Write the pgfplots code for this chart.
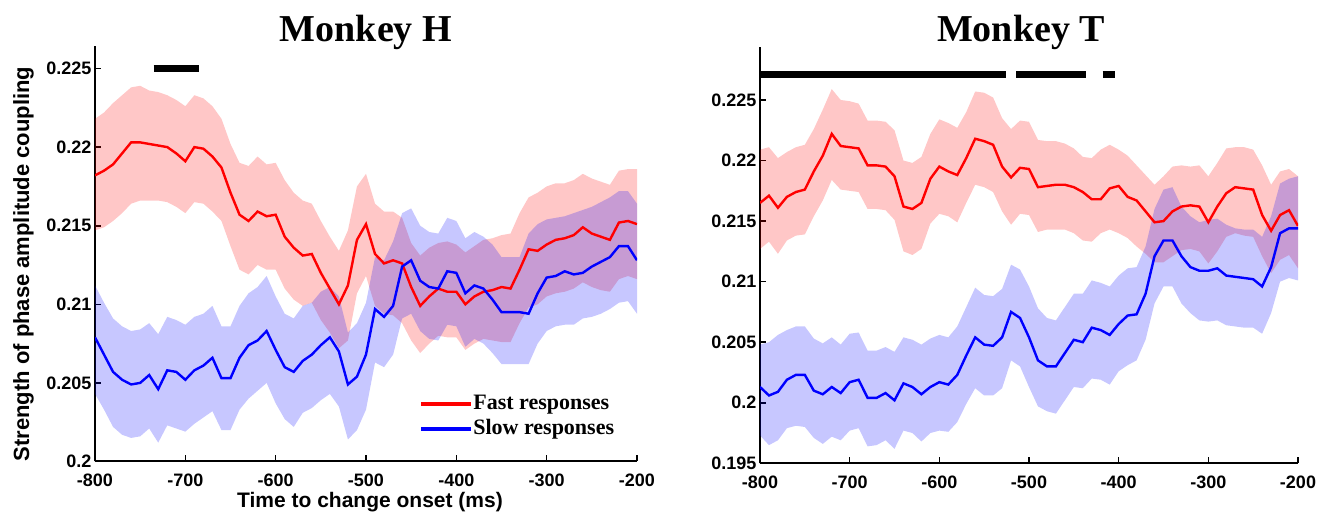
\documentclass[border=0pt]{standalone}
\usepackage{fontspec}
\setmainfont{Liberation Serif}
\setsansfont{Liberation Sans}
\usepackage{pgfplots}
\usepackage{pgfplotstable}
\pgfplotsset{compat=1.18}

% x: time (ms); fm/fl/fh: fast mean, lower, upper; sm/sl/sh: slow mean, lower, upper
\pgfplotstableread{
x fm fl fh sm sl sh
-800 0.2182 0.2147 0.2218 0.2079 0.2043 0.2112
-790 0.2185 0.2149 0.2222 0.2068 0.2033 0.2101
-780 0.2189 0.2153 0.2228 0.2057 0.2022 0.2091
-770 0.2196 0.2158 0.2233 0.2052 0.2017 0.2086
-760 0.2203 0.2164 0.2238 0.2049 0.2015 0.2083
-750 0.2203 0.2166 0.2239 0.2050 0.2016 0.2084
-740 0.2202 0.2166 0.2236 0.2055 0.2021 0.2088
-730 0.2201 0.2166 0.2235 0.2046 0.2012 0.2081
-720 0.2200 0.2165 0.2233 0.2058 0.2023 0.2092
-710 0.2196 0.2162 0.2230 0.2057 0.2021 0.2090
-700 0.2191 0.2158 0.2226 0.2052 0.2019 0.2087
-690 0.2200 0.2165 0.2233 0.2058 0.2024 0.2092
-680 0.2199 0.2164 0.2231 0.2061 0.2028 0.2094
-670 0.2194 0.2159 0.2226 0.2066 0.2032 0.2099
-660 0.2187 0.2153 0.2218 0.2053 0.2020 0.2086
-650 0.2171 0.2137 0.2202 0.2053 0.2020 0.2086
-640 0.2157 0.2122 0.2190 0.2066 0.2033 0.2099
-630 0.2153 0.2119 0.2188 0.2074 0.2040 0.2107
-620 0.2159 0.2125 0.2194 0.2077 0.2045 0.2111
-610 0.2156 0.2122 0.2189 0.2083 0.2050 0.2118
-600 0.2157 0.2122 0.2190 0.2071 0.2037 0.2105
-590 0.2143 0.2110 0.2179 0.2060 0.2027 0.2094
-580 0.2136 0.2103 0.2171 0.2057 0.2022 0.2091
-570 0.2131 0.2099 0.2166 0.2064 0.2031 0.2099
-560 0.2132 0.2101 0.2164 0.2068 0.2034 0.2101
-550 0.2120 0.2090 0.2153 0.2074 0.2039 0.2108
-540 0.2110 0.2082 0.2143 0.2079 0.2043 0.2111
-530 0.2100 0.2072 0.2134 0.2070 0.2035 0.2105
-520 0.2112 0.2077 0.2147 0.2049 0.2014 0.2082
-510 0.2141 0.2107 0.2175 0.2054 0.2020 0.2088
-500 0.2151 0.2118 0.2183 0.2068 0.2033 0.2101
-490 0.2132 0.2099 0.2164 0.2097 0.2063 0.2130
-480 0.2126 0.2094 0.2159 0.2092 0.2060 0.2128
-470 0.2128 0.2093 0.2159 0.2099 0.2068 0.2140
-460 0.2126 0.2088 0.2155 0.2124 0.2091 0.2158
-450 0.2111 0.2077 0.2139 0.2128 0.2094 0.2161
-440 0.2099 0.2069 0.2131 0.2115 0.2083 0.2150
-430 0.2105 0.2075 0.2136 0.2111 0.2078 0.2146
-420 0.2110 0.2080 0.2139 0.2110 0.2077 0.2145
-410 0.2108 0.2079 0.2140 0.2121 0.2087 0.2155
-400 0.2108 0.2079 0.2138 0.2120 0.2086 0.2153
-390 0.2100 0.2071 0.2133 0.2107 0.2073 0.2142
-380 0.2105 0.2075 0.2137 0.2112 0.2078 0.2146
-370 0.2108 0.2078 0.2141 0.2110 0.2075 0.2143
-360 0.2109 0.2077 0.2142 0.2103 0.2069 0.2138
-350 0.2111 0.2076 0.2144 0.2095 0.2062 0.2130
-340 0.2110 0.2076 0.2145 0.2095 0.2062 0.2130
-330 0.2122 0.2088 0.2158 0.2095 0.2062 0.2130
-320 0.2135 0.2098 0.2168 0.2094 0.2062 0.2145
-310 0.2134 0.2100 0.2171 0.2107 0.2075 0.2151
-300 0.2138 0.2105 0.2175 0.2117 0.2083 0.2154
-290 0.2141 0.2107 0.2177 0.2118 0.2086 0.2155
-280 0.2142 0.2108 0.2177 0.2121 0.2087 0.2156
-270 0.2144 0.2110 0.2179 0.2119 0.2087 0.2158
-260 0.2149 0.2114 0.2183 0.2120 0.2091 0.2160
-250 0.2145 0.2111 0.2180 0.2124 0.2092 0.2162
-240 0.2143 0.2109 0.2178 0.2127 0.2094 0.2165
-230 0.2141 0.2108 0.2176 0.2130 0.2097 0.2168
-220 0.2152 0.2116 0.2185 0.2137 0.2101 0.2172
-210 0.2153 0.2118 0.2186 0.2137 0.2102 0.2172
-200 0.2151 0.2116 0.2186 0.2128 0.2094 0.2164
}\monkeyH

\pgfplotstableread{
x fm fl fh sm sl sh
-800 0.2165 0.2127 0.2209 0.2013 0.1973 0.2048
-790 0.2171 0.2133 0.2211 0.2006 0.1965 0.2050
-780 0.2161 0.2123 0.2202 0.2009 0.1969 0.2056
-770 0.2170 0.2134 0.2207 0.2019 0.1979 0.2060
-760 0.2174 0.2138 0.2211 0.2023 0.1981 0.2063
-750 0.2176 0.2139 0.2213 0.2023 0.1980 0.2063
-740 0.2191 0.2154 0.2226 0.2010 0.1971 0.2053
-730 0.2204 0.2167 0.2242 0.2007 0.1966 0.2049
-720 0.2222 0.2184 0.2259 0.2013 0.1972 0.2054
-710 0.2212 0.2176 0.2250 0.2008 0.1969 0.2048
-700 0.2211 0.2175 0.2249 0.2017 0.1977 0.2057
-690 0.2210 0.2174 0.2247 0.2019 0.1979 0.2058
-680 0.2196 0.2160 0.2233 0.2004 0.1964 0.2043
-670 0.2196 0.2160 0.2233 0.2004 0.1965 0.2043
-660 0.2195 0.2159 0.2232 0.2008 0.1969 0.2046
-650 0.2187 0.2151 0.2225 0.2002 0.1962 0.2042
-640 0.2162 0.2125 0.2200 0.2016 0.1977 0.2054
-630 0.2160 0.2122 0.2198 0.2013 0.1975 0.2052
-620 0.2165 0.2127 0.2203 0.2007 0.1968 0.2048
-610 0.2185 0.2148 0.2222 0.2013 0.1975 0.2053
-600 0.2195 0.2156 0.2234 0.2017 0.1977 0.2056
-590 0.2191 0.2154 0.2231 0.2015 0.1976 0.2054
-580 0.2188 0.2149 0.2227 0.2023 0.1984 0.2063
-570 0.2202 0.2165 0.2240 0.2039 0.1999 0.2079
-560 0.2218 0.2180 0.2257 0.2054 0.2012 0.2095
-550 0.2216 0.2178 0.2256 0.2048 0.2006 0.2089
-540 0.2213 0.2174 0.2252 0.2047 0.2006 0.2088
-530 0.2195 0.2158 0.2235 0.2054 0.2012 0.2094
-520 0.2186 0.2147 0.2226 0.2075 0.2035 0.2114
-510 0.2194 0.2156 0.2233 0.2070 0.2030 0.2110
-500 0.2193 0.2155 0.2232 0.2054 0.2013 0.2096
-490 0.2178 0.2141 0.2217 0.2035 0.1997 0.2078
-480 0.2179 0.2143 0.2216 0.2030 0.1993 0.2070
-470 0.2180 0.2143 0.2216 0.2030 0.1991 0.2068
-460 0.2180 0.2143 0.2214 0.2041 0.2002 0.2079
-450 0.2178 0.2140 0.2210 0.2052 0.2013 0.2090
-440 0.2174 0.2134 0.2203 0.2050 0.2012 0.2090
-430 0.2168 0.2133 0.2202 0.2062 0.2020 0.2101
-420 0.2168 0.2140 0.2209 0.2060 0.2019 0.2099
-410 0.2177 0.2143 0.2213 0.2056 0.2015 0.2096
-400 0.2179 0.2140 0.2209 0.2065 0.2026 0.2105
-390 0.2170 0.2136 0.2204 0.2072 0.2031 0.2111
-380 0.2167 0.2129 0.2196 0.2073 0.2035 0.2112
-370 0.2158 0.2123 0.2188 0.2090 0.2052 0.2129
-360 0.2149 0.2116 0.2180 0.2121 0.2082 0.2160
-350 0.2150 0.2116 0.2187 0.2134 0.2096 0.2176
-340 0.2158 0.2121 0.2195 0.2134 0.2096 0.2178
-330 0.2162 0.2126 0.2196 0.2121 0.2082 0.2162
-320 0.2163 0.2127 0.2195 0.2112 0.2074 0.2154
-310 0.2162 0.2125 0.2196 0.2109 0.2068 0.2149
-300 0.2149 0.2115 0.2187 0.2109 0.2067 0.2151
-290 0.2162 0.2125 0.2198 0.2111 0.2068 0.2152
-280 0.2173 0.2137 0.2210 0.2105 0.2064 0.2147
-270 0.2178 0.2140 0.2211 0.2104 0.2063 0.2144
-260 0.2177 0.2138 0.2211 0.2103 0.2062 0.2143
-250 0.2176 0.2137 0.2209 0.2102 0.2062 0.2143
-240 0.2155 0.2121 0.2196 0.2096 0.2057 0.2137
-230 0.2142 0.2107 0.2180 0.2112 0.2074 0.2154
-220 0.2155 0.2118 0.2191 0.2140 0.2100 0.2181
-210 0.2159 0.2122 0.2193 0.2144 0.2103 0.2185
-200 0.2146 0.2111 0.2187 0.2144 0.2101 0.2187
}\monkeyT

\pgfplotsset{
  panel/.style={
    scale only axis,
    xmin=-800, xmax=-200,
    axis lines=left,
    axis line style={-, line width=2pt, black},
    tick align=inside,
    major tick length=6pt,
    every tick/.style={black, line width=1.6pt},
    xtick={-800,-700,-600,-500,-400,-300,-200},
    xticklabels={-800,-700,-600,-500,-400,-300,-200},
    tick label style={font=\sffamily\bfseries\fontsize{18}{18}\selectfont},
    xticklabel style={yshift=-9pt},
  },
  % bands: stacked increments, filled down to the previous stacked plot
  base/.style={draw=none, stack plots=y, forget plot},
  band/.style={draw=none, fill=#1, fill opacity=0.22, stack plots=y, forget plot},
  mean/.style={#1, line width=2.4pt, stack plots=false, forget plot},
  sig/.style={black, line width=7pt, line cap=butt, stack plots=false, forget plot},
}

\begin{document}
\begin{tikzpicture}
\useasboundingbox (0pt,0pt) rectangle (1330pt,516pt);

% ---- Monkey H ----
\begin{axis}[panel,
  at={(95pt,54.5pt)}, anchor=south west,
  width=542pt, height=415pt,
  ymin=0.2, ymax=0.2264,
  ytick={0.2,0.205,0.21,0.215,0.22,0.225},
  yticklabels={0.2,0.205,0.21,0.215,0.22,0.225},
  legend image code/.code={\draw[#1] (0pt,0pt) -- (50pt,0pt);},
  legend style={at={(axis description cs:0.598,0.162)}, anchor=north west,
    draw=none, fill=none, inner sep=0pt,
    font=\bfseries\fontsize{22}{22}\selectfont,
    nodes={inner sep=0pt, text height=15pt, text depth=5pt},
    row sep=5pt,
    /tikz/every even column/.append style={column sep=8pt}},
  legend cell align=left,
]
\addplot[base] table[x=x, y=fl] {\monkeyH};
\addplot[band=red] table[x=x, y expr=\thisrow{fh}-\thisrow{fl}] {\monkeyH} \closedcycle;
\addplot[base] table[x=x, y expr=\thisrow{sl}-\thisrow{fh}] {\monkeyH};
\addplot[band=blue] table[x=x, y expr=\thisrow{sh}-\thisrow{sl}] {\monkeyH} \closedcycle;
\addplot[mean=red] table[x=x, y=fm] {\monkeyH};
\addplot[mean=blue] table[x=x, y=sm] {\monkeyH};
\addplot[sig] coordinates {(-735,0.2250) (-685,0.2250)};
\addlegendimage{red, line width=4pt}
\addlegendentry{Fast responses}
\addlegendimage{blue, line width=4pt}
\addlegendentry{Slow responses}
\end{axis}

% ---- Monkey T ----
\begin{axis}[panel,
  at={(760pt,52.7pt)}, anchor=south west,
  width=538pt, height=416.6pt,
  ymin=0.195, ymax=0.2294,
  ytick={0.195,0.2,0.205,0.21,0.215,0.22,0.225},
  yticklabels={0.195,0.2,0.205,0.21,0.215,0.22,0.225},
]
\addplot[base] table[x=x, y=fl] {\monkeyT};
\addplot[band=red] table[x=x, y expr=\thisrow{fh}-\thisrow{fl}] {\monkeyT} \closedcycle;
\addplot[base] table[x=x, y expr=\thisrow{sl}-\thisrow{fh}] {\monkeyT};
\addplot[band=blue] table[x=x, y expr=\thisrow{sh}-\thisrow{sl}] {\monkeyT} \closedcycle;
\addplot[mean=red] table[x=x, y=fm] {\monkeyT};
\addplot[mean=blue] table[x=x, y=sm] {\monkeyT};
\addplot[sig] coordinates {(-800,0.2271) (-526,0.2271)};
\addplot[sig] coordinates {(-514,0.2271) (-436,0.2271)};
\addplot[sig] coordinates {(-418,0.2271) (-404,0.2271)};
\end{axis}

% titles and axis labels
\node[anchor=base, font=\bfseries\fontsize{38}{38}\selectfont] at (366pt,474pt) {Monkey H};
\node[anchor=base, font=\bfseries\fontsize{38}{38}\selectfont] at (1021pt,474pt) {Monkey T};
\node[anchor=base, font=\sffamily\bfseries\fontsize{21}{21}\selectfont] at (370pt,8pt) {Time to change onset (ms)};
\node[anchor=base, rotate=90, font=\sffamily\bfseries\fontsize{22}{22}\selectfont] at (29pt,252pt) {Strength of phase amplitude coupling};
\end{tikzpicture}
\end{document}
